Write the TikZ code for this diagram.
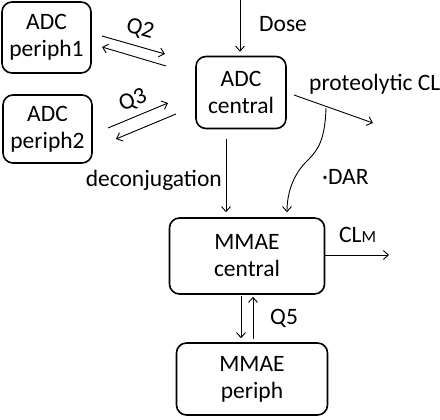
\documentclass[tikz,border=0pt]{standalone}
\usepackage{fontspec}
\setmainfont{Carlito}
\usetikzlibrary{arrows.meta}
\begin{document}
\begin{tikzpicture}[x=1pt,y=-1pt,
  box/.style={draw,line width=1.6pt,rounded corners=10pt,align=center,inner sep=0pt,
    font=\fontsize{23.5}{27}\selectfont},
  lbl/.style={font=\fontsize{23.5}{27}\selectfont,inner sep=0pt},
  arr/.style={line width=0.9pt,-{Straight Barb[length=5pt,width=9pt]}}]
\useasboundingbox (0,0) rectangle (440,420);
\node[box,minimum width=89pt,minimum height=71pt] (p1) at (46.5,37.5) {ADC\\periph1};
\node[box,minimum width=89pt,minimum height=68pt] (p2) at (47.5,129) {ADC\\periph2};
\node[box,minimum width=90pt,minimum height=72pt] (ac) at (241,92.5) {ADC\\central};
\node[box,minimum width=155pt,minimum height=76pt] (mc) at (247,256) {MMAE\\central};
\node[box,minimum width=151pt,minimum height=72pt] (mp) at (252,379) {MMAE\\periph};
% coordinates
\coordinate (q2a) at (102,36); \coordinate (q2b) at (165,54);
\coordinate (q2c) at (166,66); \coordinate (q2d) at (102,47);
\coordinate (q3a) at (108,128); \coordinate (q3b) at (168,103);
\coordinate (q3c) at (176,114); \coordinate (q3d) at (116,139);
\coordinate (dosein) at (240,0);
\coordinate (pcs) at (294,95);
\coordinate (pcl) at (373,123);
\coordinate (dcs) at (226,128.5);
\coordinate (cvs) at (326,108);
\coordinate (cve) at (287,0);
\coordinate (clms) at (325,255);
\coordinate (clm) at (389,255);
\coordinate (q5x) at (241,0);
\coordinate (q5y) at (253,0);
% arrows
\draw[arr] (q2a) -- (q2b);
\draw[arr] (q2c) -- (q2d);
\draw[arr] (q3a) -- (q3b);
\draw[arr] (q3c) -- (q3d);
\draw[arr,shorten >=4pt] (dosein) -- (dosein |- ac.north);
\draw[arr] (pcs) -- (pcl);
\draw[arr,shorten <=11pt,shorten >=5pt] (dcs) -- (dcs |- mc.north);
\draw[arr,shorten >=5pt] (cvs) .. controls (325,140) and (318,150) .. (308,160)
   .. controls (292,175) and (287,195) .. (cve |- mc.north);
\draw[arr] (clms) -- (clm);
\draw[arr,shorten <=1pt,shorten >=4pt] (q5x |- mc.south) -- (q5x |- mp.north);
\draw[arr,shorten <=3pt,shorten >=2pt] (q5y |- mp.north) -- (q5y |- mc.south);
% labels
\node[lbl,rotate=-16] (lq2) at (140,29) {Q2};
\node[lbl,rotate=22] (lq3) at (133,101) {Q3};
\node[lbl,anchor=base west] (ldose) at (259,32) {Dose};
\node[lbl,anchor=base west] (lpcl) at (309,91) {proteolytic CL};
\node[lbl,anchor=base east] (ldec) at (222,187) {deconjugation};
\node[lbl,anchor=base west] (ldar) at (322,185) {·DAR};
\node[lbl,anchor=base west] (lclm) at (339,243) {CL{\fontsize{17}{17}\selectfont M}};
\node[lbl,anchor=base west] (lq5) at (270,324) {Q5};
\end{tikzpicture}
\end{document}
